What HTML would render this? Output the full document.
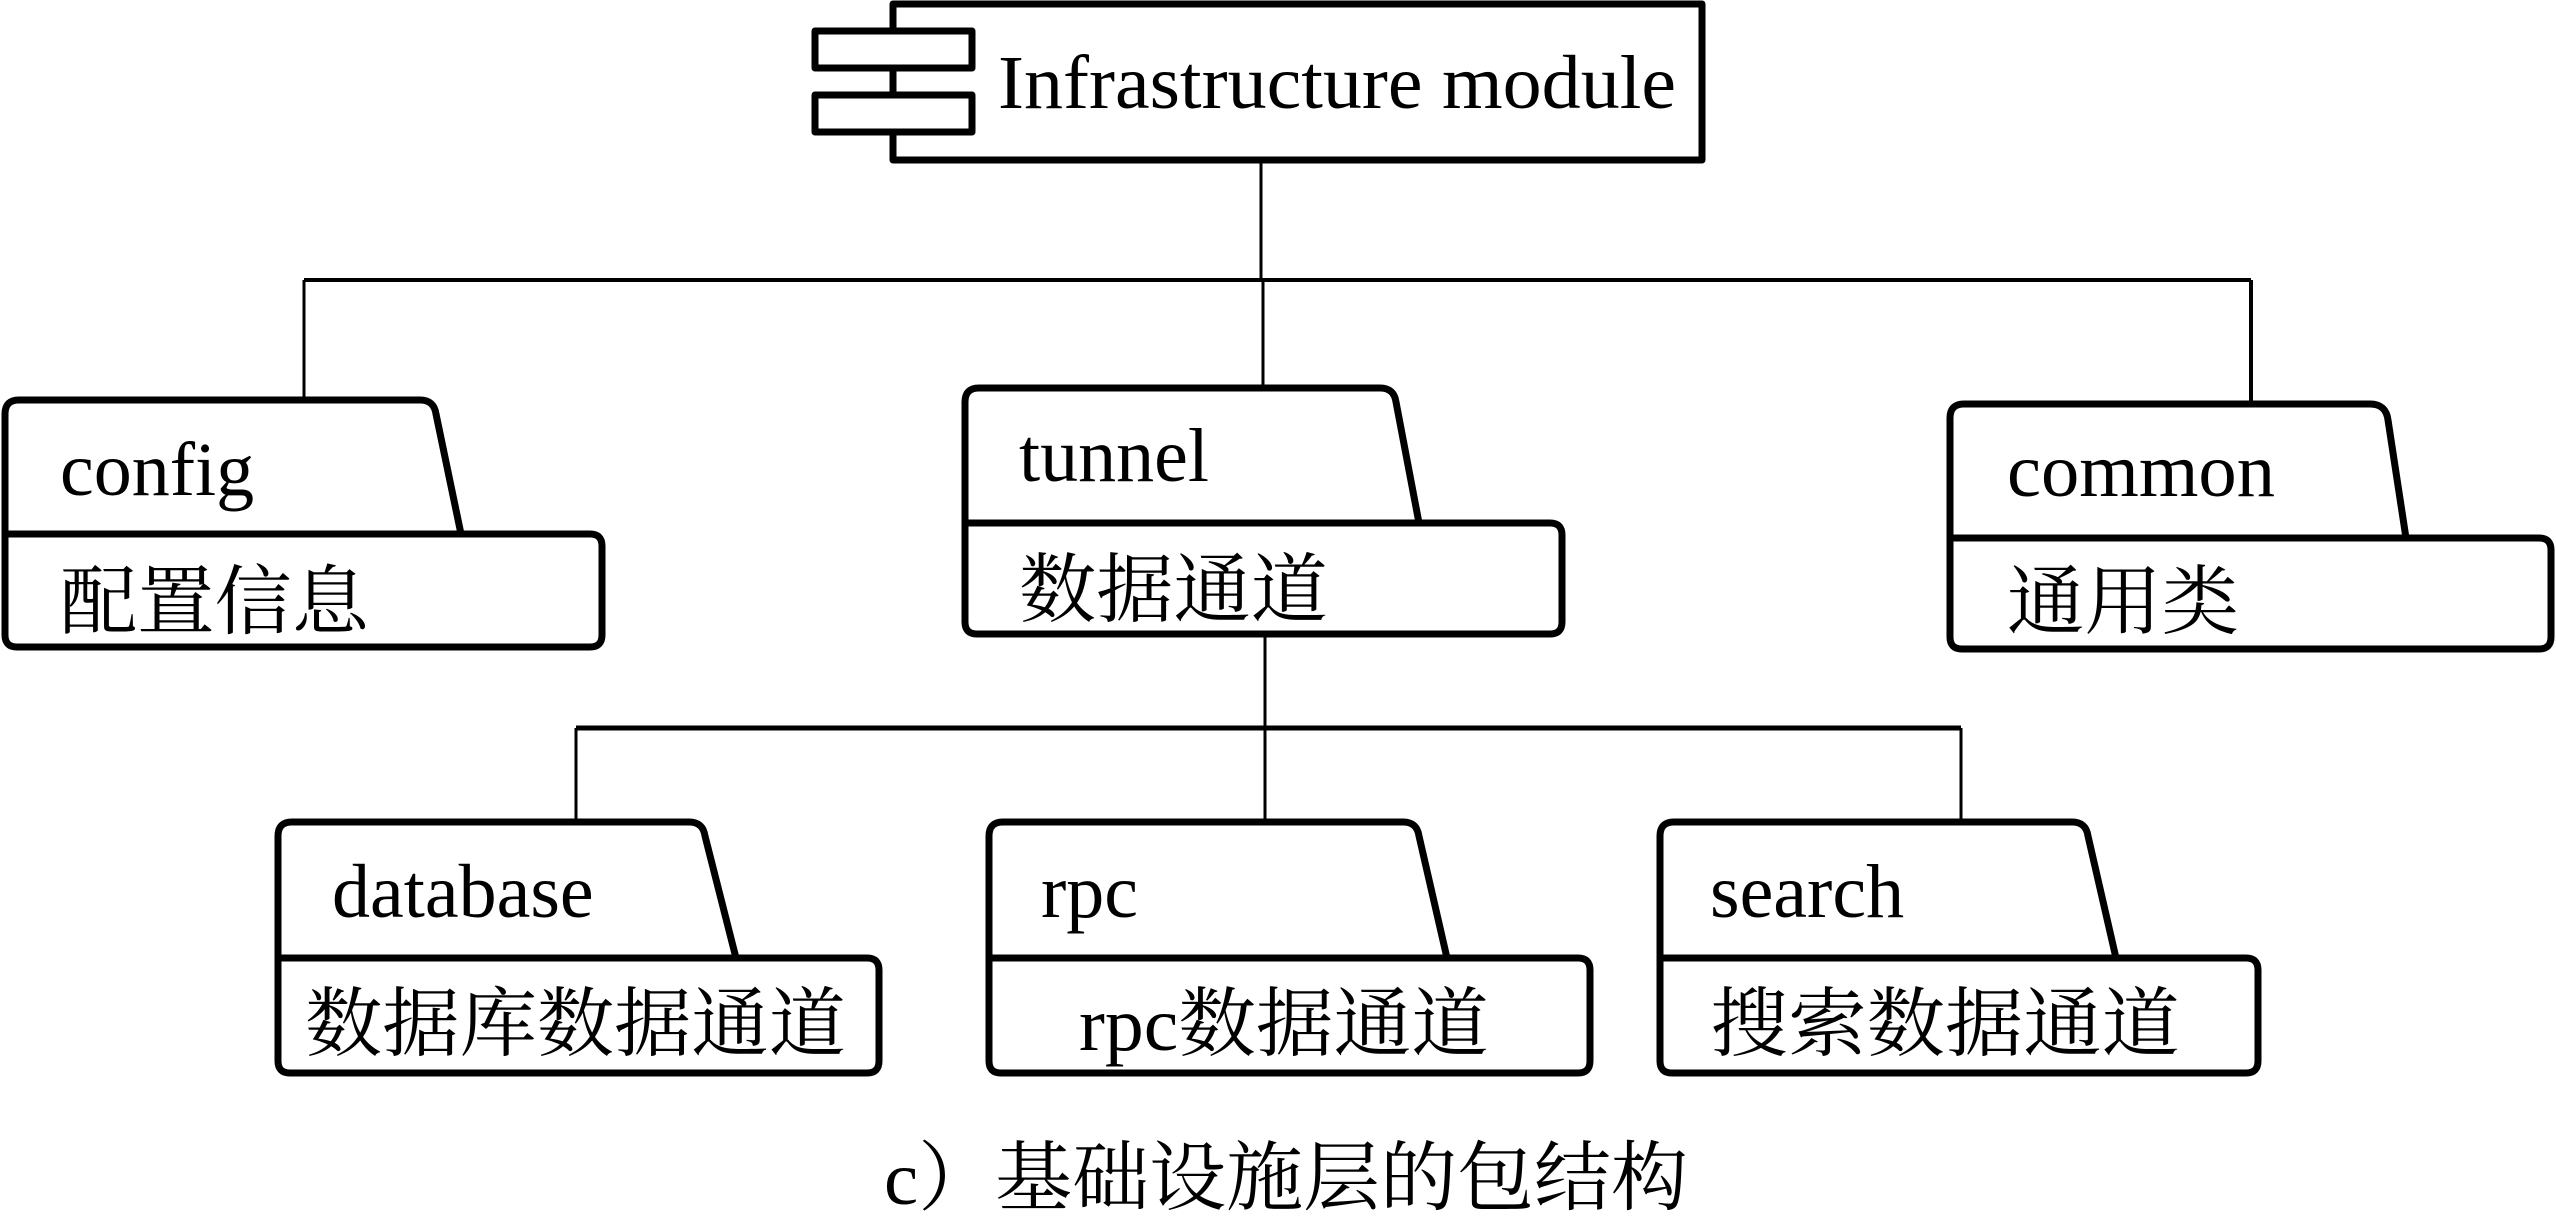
<!DOCTYPE html>
<html><head><meta charset="utf-8"><style>
html,body{margin:0;padding:0;background:#fff;}
svg{display:block;}
text{font-family:"Liberation Serif","Noto Serif CJK SC",serif;fill:#000;}
.cjk{font-family:"Liberation Serif","Noto Serif CJK SC","Noto Sans CJK SC",serif;}
</style></head><body>
<svg width="2556" height="1220" viewBox="0 0 2556 1220" xmlns="http://www.w3.org/2000/svg">
<g fill="none" stroke="#000" stroke-linejoin="round">
<rect x="893" y="4" width="809" height="156" stroke-width="7" fill="#fff"/>
<rect x="815" y="31" width="157" height="37" stroke-width="7" fill="#fff"/>
<rect x="815" y="95" width="157" height="37" stroke-width="7" fill="#fff"/>
<line x1="1261" y1="160" x2="1261" y2="280" stroke-width="3"/>
<line x1="304" y1="280" x2="2251" y2="280" stroke-width="4"/>
<line x1="304" y1="280" x2="304" y2="400" stroke-width="3"/>
<line x1="1263" y1="280" x2="1263" y2="388" stroke-width="3"/>
<line x1="2251" y1="280" x2="2251" y2="404" stroke-width="4"/>
<line x1="1265" y1="634" x2="1265" y2="822" stroke-width="3"/>
<line x1="576" y1="728" x2="1961" y2="728" stroke-width="5"/>
<line x1="576" y1="728" x2="576" y2="822" stroke-width="3"/>
<line x1="1961" y1="728" x2="1961" y2="822" stroke-width="3"/>
<path d="M5,534 L5,414 Q5,400 19,400 L420,400 Q434,400 436,414 L461,534" stroke-width="7"/>
<path d="M5,534 L590,534 Q602,534 602,546 L602,635 Q602,647 590,647 L17,647 Q5,647 5,635 Z" stroke-width="7"/>
<path d="M965,523 L965,402 Q965,388 979,388 L1380,388 Q1394,388 1396,402 L1419,523" stroke-width="7"/>
<path d="M965,523 L1550,523 Q1562,523 1562,535 L1562,622 Q1562,634 1550,634 L977,634 Q965,634 965,622 Z" stroke-width="7"/>
<path d="M1950,538 L1950,418 Q1950,404 1964,404 L2370,404 Q2386,404 2388,420 L2406,538" stroke-width="7"/>
<path d="M1950,538 L2539,538 Q2551,538 2551,550 L2551,637 Q2551,649 2539,649 L1962,649 Q1950,649 1950,637 Z" stroke-width="7"/>
<path d="M278,958 L278,836 Q278,822 292,822 L689,822 Q703,822 705,836 L736,958" stroke-width="7"/>
<path d="M278,958 L867,958 Q879,958 879,970 L879,1061 Q879,1073 867,1073 L290,1073 Q278,1073 278,1061 Z" stroke-width="7"/>
<path d="M989,958 L989,836 Q989,822 1003,822 L1403,822 Q1417,822 1419,836 L1447,958" stroke-width="7"/>
<path d="M989,958 L1578,958 Q1590,958 1590,970 L1590,1061 Q1590,1073 1578,1073 L1001,1073 Q989,1073 989,1061 Z" stroke-width="7"/>
<path d="M1660,958 L1660,836 Q1660,822 1674,822 L2072,822 Q2086,822 2088,836 L2116,958" stroke-width="7"/>
<path d="M1660,958 L2246,958 Q2258,958 2258,970 L2258,1061 Q2258,1073 2246,1073 L1672,1073 Q1660,1073 1660,1061 Z" stroke-width="7"/>
</g>
<g font-size="76">
<text x="998" y="108" textLength="678" lengthAdjust="spacingAndGlyphs">Infrastructure module</text>
<text x="60" y="495">config</text>
<text x="1019" y="481">tunnel</text>
<text x="2007" y="496" textLength="268" lengthAdjust="spacingAndGlyphs">common</text>
<text x="332" y="917">database</text>
<text x="1041" y="917">rpc</text>
<text x="1710" y="917">search</text>
<text class="cjk" x="60" y="628" textLength="309" lengthAdjust="spacingAndGlyphs">配置信息</text>
<text class="cjk" x="1019" y="616" textLength="309" lengthAdjust="spacingAndGlyphs">数据通道</text>
<text class="cjk" x="2007" y="628" textLength="232" lengthAdjust="spacingAndGlyphs">通用类</text>
<text class="cjk" x="305" y="1050" textLength="541" lengthAdjust="spacingAndGlyphs">数据库数据通道</text>
<text class="cjk" x="1079" y="1050" textLength="410" lengthAdjust="spacingAndGlyphs">rpc数据通道</text>
<text class="cjk" x="1710" y="1050" textLength="470" lengthAdjust="spacingAndGlyphs">搜索数据通道</text>
<text class="cjk" x="884" y="1204" textLength="804" lengthAdjust="spacingAndGlyphs">c）基础设施层的包结构</text>
</g>
</svg>
</body></html>
